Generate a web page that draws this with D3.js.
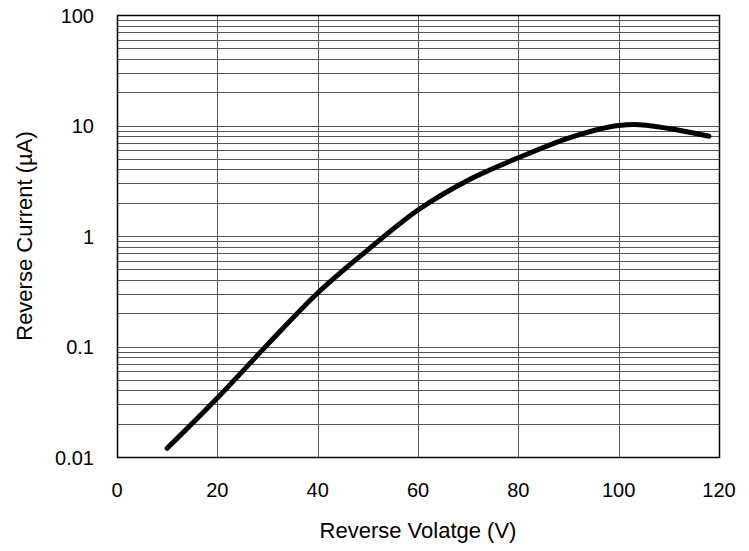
<!DOCTYPE html>
<html>
<head>
<meta charset="UTF-8">
<script src="https://d3js.org/d3.v7.min.js"></script>
<style>
  body { margin: 0; background: #fff; }
  text { font-family: "Liberation Sans", Arial, sans-serif; }
</style>
</head>
<body>
<svg width="749" height="551"></svg>
<script>
// data
const voltage = [10, 20, 30, 40, 50, 60, 70, 80, 90, 100, 103, 110, 118];
const current = [0.012, 0.0342, 0.104, 0.305, 0.75, 1.72, 3.2, 5.1, 7.7, 10.0, 10.2, 9.4, 8.0];
const xTicks = [0, 20, 40, 60, 80, 100, 120];
const yTicks = [0.01, 0.1, 1, 10, 100];
const yTickLabels = ["0.01", "0.1", "1", "10", "100"];

const margin = { top: 15, right: 30, bottom: 94, left: 117 };
const width = 749 - margin.left - margin.right;
const height = 551 - margin.top - margin.bottom;

const svg = d3.select('svg')
  .append('g')
  .attr('transform', `translate(${margin.left}, ${margin.top})`);

const x = d3.scaleLinear().domain([0, 120]).range([0, width]);
const y = d3.scaleLog().domain([0.01, 100]).range([height, 0]);

// minor grid lines (2..9 in each decade)
const minor = [];
[0.01, 0.1, 1, 10].forEach(d => {
  for (let k = 1; k <= 9; k++) minor.push(d * k);
});
minor.push(100);

svg.append('g')
  .selectAll('line')
  .data(minor)
  .enter()
  .append('line')
    .attr('x1', 0)
    .attr('x2', width)
    .attr('y1', d => Math.round(y(d)) + 0.5)
    .attr('y2', d => Math.round(y(d)) + 0.5)
    .attr('stroke', '#555')
    .attr('stroke-width', 1);

// vertical grid lines
svg.append('g')
  .selectAll('line')
  .data(xTicks)
  .enter()
  .append('line')
    .attr('x1', d => Math.round(x(d)) + 0.5)
    .attr('x2', d => Math.round(x(d)) + 0.5)
    .attr('y1', 0)
    .attr('y2', height)
    .attr('stroke', '#555')
    .attr('stroke-width', 1);

// frame
svg.append('rect')
  .attr('x', 0.5)
  .attr('y', 0.5)
  .attr('width', width)
  .attr('height', height)
  .attr('fill', 'none')
  .attr('stroke', '#000')
  .attr('stroke-width', 1.5);

// tick labels
svg.append('g')
  .selectAll('text')
  .data(xTicks)
  .enter()
  .append('text')
    .attr('x', d => x(d))
    .attr('y', height + 40)
    .attr('text-anchor', 'middle')
    .attr('font-size', '20px')
    .text(d => d);

svg.append('g')
  .selectAll('text')
  .data(yTicks)
  .enter()
  .append('text')
    .attr('x', -23)
    .attr('y', d => y(d) + 7.5)
    .attr('text-anchor', 'end')
    .attr('font-size', '20px')
    .text((d, i) => yTickLabels[i]);

// curve
const pts = voltage.map((v, i) => ({ v: v, c: current[i] }));
svg.append('path')
  .datum(pts)
  .attr('fill', 'none')
  .attr('stroke', '#000')
  .attr('stroke-width', 5)
  .attr('stroke-linecap', 'round')
  .attr('stroke-linejoin', 'round')
  .attr('d', d3.line()
    .x(d => x(d.v))
    .y(d => y(d.c))
    .curve(d3.curveMonotoneX));

// axis titles
svg.append('text')
  .attr('x', width / 2)
  .attr('y', height + 81)
  .attr('text-anchor', 'middle')
  .attr('font-size', '22px')
  .text('Reverse Volatge (V)');

svg.append('text')
  .attr('transform', 'rotate(-90)')
  .attr('x', -height / 2)
  .attr('y', -85)
  .attr('text-anchor', 'middle')
  .attr('font-size', '22px')
  .text('Reverse Current (µA)');
</script>
</body>
</html>
